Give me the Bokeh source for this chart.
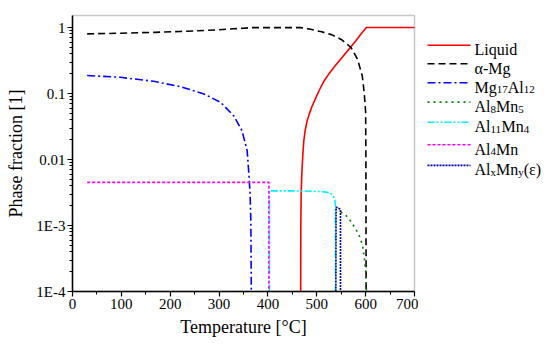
import re
from bokeh.plotting import figure
from bokeh.models import Range1d, FixedTicker
from bokeh.layouts import row
from bokeh.embed import file_html
from bokeh.resources import INLINE
from bokeh.core.properties import value

FONT = "Liberation Serif"

# ---------------- data ----------------
T_liquid = [467, 467.3, 468, 469, 470, 471.5, 473.4, 476, 480, 485, 490, 497, 505, 514, 525, 538, 550, 569, 580, 590, 601.5, 700]
f_liquid = [1e-4, 0.001, 0.003, 0.005, 0.0076, 0.012, 0.019, 0.027, 0.038, 0.050, 0.063, 0.083, 0.112, 0.151, 0.20, 0.265, 0.34, 0.50, 0.63, 0.79, 1.0, 1.0]

T_amg = [30, 100, 170, 220, 270, 300, 330, 350, 366, 400, 440, 467, 475, 485, 495, 510, 530, 550, 570, 583, 593, 597, 600, 600.5, 601]
f_amg = [0.80, 0.82, 0.845, 0.87, 0.90, 0.925, 0.955, 0.975, 0.995, 0.995, 0.995, 0.995, 0.975, 0.95, 0.91, 0.86, 0.78, 0.66, 0.50, 0.335, 0.187, 0.104, 0.052, 0.01, 1e-4]

T_mg17al12 = [30, 98, 166, 221, 269, 303, 330, 347, 357.5, 361, 363.5, 365, 366]
f_mg17al12 = [0.187, 0.176, 0.153, 0.127, 0.0986, 0.0736, 0.046, 0.0273, 0.0136, 0.006, 0.003, 0.0012, 1e-4]

T_al8mn5 = [549, 559, 570, 584, 589.5, 594, 597.6, 600, 601.7]
f_al8mn5 = [0.0016, 0.00144, 0.00115, 7.8e-4, 6.3e-4, 4.8e-4, 3.1e-4, 2.05e-4, 1e-4]

T_al11mn4 = [403, 403, 450, 500, 520, 528, 532, 535, 538, 538.5]
f_al11mn4 = [1e-4, 0.00335, 0.00335, 0.0033, 0.0032, 0.0031, 0.0029, 0.0027, 0.0022, 1e-4]

T_al4mn = [30, 402, 402]
f_al4mn = [0.0045, 0.0045, 1e-4]

T_alxmny = [539, 539.5, 548.5, 548.5]
f_alxmny = [1e-4, 0.0019, 0.00177, 1e-4]

series_names = ["Liquid", "\u03b1-Mg", "Mg_{17}Al_{12}", "Al_{8}Mn_{5}", "Al_{11}Mn_{4}", "Al_{4}Mn", "Al_{x}Mn_{y}(\u03b5)"]

x_ticks = [0, 100, 200, 300, 400, 500, 600, 700]
x_minor = [50, 150, 250, 350, 450, 550, 650]
y_ticks = [1e-4, 1e-3, 1e-2, 1e-1, 1.0]
y_tick_labels = ["1E-4", "1E-3", "0.01", "0.1", "1"]

# ---------------- styles ----------------
series = [
    (T_liquid, f_liquid, "#ff0000", "solid"),
    (T_amg, f_amg, "#000000", "7 4"),
    (T_mg17al12, f_mg17al12, "#0000ff", "8 3 2 3"),
    (T_al8mn5, f_al8mn5, "#008000", "2 4"),
    (T_al11mn4, f_al11mn4, "#00f0ff", "7 2 2 2 2 2"),
    (T_al4mn, f_al4mn, "#ff00ff", "3 2"),
    (T_alxmny, f_alxmny, "#000099", "2 1"),
]

H = 349
p = figure(width=418, height=H, x_range=Range1d(0, 700), y_range=Range1d(1e-4, 1.52),
           y_axis_type="log", output_backend="svg", toolbar_location=None,
           min_border_left=72, min_border_right=4, min_border_top=15, min_border_bottom=58)
p.grid.visible = False
p.outline_line_color = "#c8c8c8"
p.outline_line_width = 1.5

for T, f, c, d in series:
    p.line(T, f, line_color=c, line_dash=d, line_width=1.6)

p.xaxis.ticker = FixedTicker(ticks=x_ticks, minor_ticks=x_minor)
p.yaxis.ticker = FixedTicker(ticks=y_ticks,
                             minor_ticks=[k * 10.0 ** e for e in range(-4, 0) for k in range(2, 10)])
p.yaxis.major_label_overrides = {t: l for t, l in zip(y_ticks, y_tick_labels)}
p.xaxis.axis_label = "Temperature [\u00b0C]"
p.yaxis.axis_label = "Phase fraction [1]"
for ax in (p.xaxis, p.yaxis):
    ax.axis_line_color = "black"
    ax.axis_line_width = 1.5
    ax.major_tick_line_color = "black"
    ax.minor_tick_line_color = "black"
    ax.major_tick_line_width = 1.2
    ax.minor_tick_line_width = 1
    ax.major_tick_in = 0
    ax.major_tick_out = 5
    ax.minor_tick_in = 0
    ax.minor_tick_out = 3
    ax.major_label_text_font = FONT
    ax.major_label_text_font_size = "15px"
    ax.major_label_text_color = "black"
    ax.major_label_standoff = 2
    ax.axis_label_text_font = FONT
    ax.axis_label_text_font_size = "18px"
    ax.axis_label_text_font_style = "normal"
    ax.axis_label_text_color = "black"
p.xaxis.axis_label_standoff = 5
p.yaxis.axis_label_standoff = 7

# ---------------- legend (separate panel) ----------------
LW = 132
leg = figure(width=LW, height=H, x_range=Range1d(0, LW), y_range=Range1d(H, 0),
             output_backend="svg", toolbar_location=None,
             x_axis_location=None, y_axis_location=None, min_border=0)
leg.grid.visible = False
leg.outline_line_color = None

W = {'A': 722, 'l': 278, 'M': 889, 'g': 500, 'n': 500, 'x': 500, 'y': 500,
     'L': 611, 'i': 278, 'q': 500, 'u': 500, 'd': 500}
for ch in "0123456789":
    W[ch] = 500

def width(s, size):
    return sum(W.get(ch, 500) for ch in s) * size / 1000.0

MAIN, SUB = 16, 11
item_y = [37.7, 61, 85, 109.5, 135, 163.5, 189.5]
mx, my, mt, sx, sy, st = [], [], [], [], [], []
for (T, f, c, d), name, y in zip(series, series_names, item_y):
    leg.line([9, 52], [y, y], line_color=c, line_dash=d, line_width=1.6)
    x = 56.0
    base = y + 5.5
    parts = re.split(r"_\{([^}]*)\}", name)
    for k, part in enumerate(parts):
        if not part:
            continue
        if k % 2 == 0:
            mx.append(x); my.append(base); mt.append(part)
            x += width(part, MAIN)
        else:
            sx.append(x); sy.append(base + 3.5); st.append(part)
            x += width(part, SUB)

leg.text(x=mx, y=my, text=mt, text_font=value(FONT), text_font_size="16px",
         text_baseline="alphabetic", text_align="left", text_color="black")
leg.text(x=sx, y=sy, text=st, text_font=value(FONT), text_font_size="11px",
         text_baseline="alphabetic", text_align="left", text_color="black")

layout = row(p, leg)
open("out.html", "w").write(file_html(layout, INLINE))
